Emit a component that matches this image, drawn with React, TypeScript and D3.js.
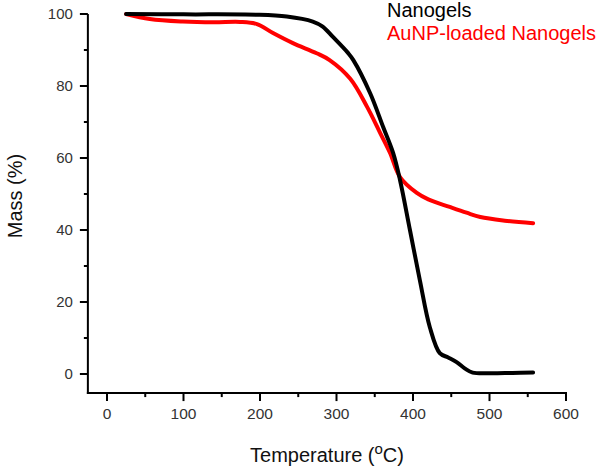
import React from "react";
import * as d3 from "d3";

const nanogelsT = [25, 100, 196, 235, 269, 282, 295, 315, 322, 344, 361, 374, 383, 396, 409, 422, 435, 446, 457, 468, 478, 500, 530, 557];
const nanogelsM = [100, 99.9, 99.8, 99.3, 97.9, 96.5, 93.7, 89.2, 87.2, 78.0, 68.6, 61.4, 53.9, 40.0, 26.0, 13.0, 5.8, 4.6, 3.3, 1.5, 0.4, 0.2, 0.3, 0.4];
const auT = [25, 56, 99, 140, 174, 196, 217, 243, 274, 291, 318, 340, 357, 370, 383, 405, 420, 448, 470, 488, 520, 557];
const auM = [100, 98.6, 97.9, 97.7, 97.8, 97.2, 94.7, 91.9, 89.1, 87.2, 82.0, 74.2, 67.0, 61.4, 54.7, 50.3, 48.5, 46.4, 44.8, 43.6, 42.6, 41.9];

const xTicks = [0, 100, 200, 300, 400, 500, 600];
const xMinor = [50, 150, 250, 350, 450, 550];
const yTicks = [0, 20, 40, 60, 80, 100];
const yMinor = [10, 30, 50, 70, 90];
const seriesNames = ["Nanogels", "AuNP-loaded Nanogels"];
const seriesColors = ["#000000", "#ff0000"];

export default function App() {
  const x = d3.scaleLinear().domain([0, 600]).range([107, 566]);
  const y = d3.scaleLinear().domain([0, 100]).range([374, 14]);
  const x0 = x(-25);
  const y0 = y(-5.3);
  const line = d3
    .line<[number, number]>()
    .x((d) => x(d[0]))
    .y((d) => y(d[1]))
    .curve(d3.curveCatmullRom.alpha(0.5));
  const ng = nanogelsT.map((t, i) => [t, nanogelsM[i]] as [number, number]);
  const au = auT.map((t, i) => [t, auM[i]] as [number, number]);
  const font = "Arial, 'Liberation Sans', sans-serif";
  const tc = "#333";
  return (
    <svg width={600} height={470} style={{ position: "absolute", left: 0, top: 0, background: "#fff" }} fontFamily={font}>
      <path d={line(au) || ""} fill="none" stroke={seriesColors[1]} strokeWidth={4} strokeLinejoin="round" strokeLinecap="round" />
      <path d={line(ng) || ""} fill="none" stroke={seriesColors[0]} strokeWidth={4} strokeLinejoin="round" strokeLinecap="round" />
      <line x1={x0} x2={x0} y1={y(100)} y2={y0 + 1} stroke="#000" strokeWidth={2} />
      <line x1={x0 - 1} x2={x(600) + 1} y1={y0} y2={y0} stroke="#000" strokeWidth={2} />
      {yTicks.map((v) => (
        <g key={"y" + v}>
          <line x1={x0 - 8} x2={x0} y1={y(v)} y2={y(v)} stroke="#000" strokeWidth={2} />
          <text x={x0 - 15} y={y(v)} dy="0.35em" textAnchor="end" fontSize={15} fill={tc}>{v}</text>
        </g>
      ))}
      {yMinor.map((v) => (
        <line key={"ym" + v} x1={x0 - 4} x2={x0} y1={y(v)} y2={y(v)} stroke="#000" strokeWidth={2} />
      ))}
      {xTicks.map((v) => (
        <g key={"x" + v}>
          <line x1={x(v)} x2={x(v)} y1={y0} y2={y0 + 8} stroke="#000" strokeWidth={2} />
          <text x={x(v)} y={y0 + 26} textAnchor="middle" fontSize={15.5} fill={tc}>{v}</text>
        </g>
      ))}
      {xMinor.map((v) => (
        <line key={"xm" + v} x1={x(v)} x2={x(v)} y1={y0} y2={y0 + 4} stroke="#000" strokeWidth={2} />
      ))}
      <text x={327} y={462} textAnchor="middle" fontSize={20} fill="#111">
        Temperature (<tspan dy={-8} fontSize={15}>o</tspan><tspan dy={8}>C)</tspan>
      </text>
      <text transform={`translate(22,${y(50) + 2}) rotate(-90)`} textAnchor="middle" fontSize={20} fill="#111">Mass (%)</text>
      <text x={387} y={17} fontSize={20} fill={seriesColors[0]}>{seriesNames[0]}</text>
      <text x={387} y={40} fontSize={20} fill={seriesColors[1]}>{seriesNames[1]}</text>
    </svg>
  );
}
